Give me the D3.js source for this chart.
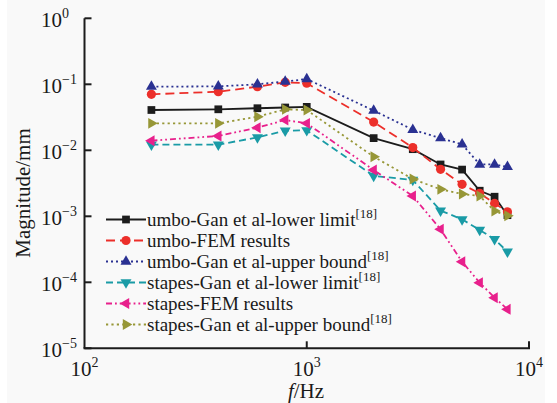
<!DOCTYPE html>
<html>
<head>
<meta charset="utf-8">
<script src="https://cdn.jsdelivr.net/npm/d3@7"></script>
<style>
  body { margin: 0; background: #fff; }
  text { font-family: "Liberation Serif", Tinos, "Times New Roman", Times, "DejaVu Serif", serif; fill: #1a1a1a; }
</style>
</head>
<body>
<svg id="chart" width="557" height="403"></svg>
<script>
// frequencies (Hz)
const freqs = [200, 400, 600, 800, 1000, 2000, 3000, 4000, 5000, 6000, 7000, 8000];

// magnitudes (mm)
const umboLower = [0.0408, 0.0418, 0.0434, 0.0445, 0.0455, 0.0153, 0.0104, 0.0061, 0.0051, 0.00244, 0.00198, 0.00104];
const umboFEM = [0.0705, 0.0773, 0.092, 0.107, 0.104, 0.0268, 0.011, 0.00515, 0.00305, 0.00223, 0.00157, 0.00117];
const umboUpper = [0.092, 0.093, 0.100, 0.110, 0.120, 0.040, 0.0205, 0.0153, 0.0123, 0.0061, 0.0061, 0.0056];
const stapesLower = [0.0122, 0.0122, 0.0157, 0.0198, 0.0201, 0.0041, 0.00355, 0.00122, 0.0009, 0.00062, 0.00045, 0.00029];
const stapesFEM = [0.014, 0.0165, 0.022, 0.0288, 0.0256, 0.00503, 0.00203, 0.000635, 0.000205, 0.0000986, 0.0000585, 0.000039];
const stapesUpper = [0.0256, 0.0256, 0.0323, 0.0417, 0.0408, 0.008, 0.00367, 0.00256, 0.00218, 0.00203, 0.0012, 0.00102];

const seriesNames = [
  ["umbo-Gan et al-lower limit", "[18]"],
  ["umbo-FEM results", ""],
  ["umbo-Gan et al-upper bound", "[18]"],
  ["stapes-Gan et al-lower limit", "[18]"],
  ["stapes-FEM results", ""],
  ["stapes-Gan et al-upper bound", "[18]"]
];
const seriesValues = [umboLower, umboFEM, umboUpper, stapesLower, stapesFEM, stapesUpper];

const xTicks = [100, 1000, 10000];
const yTicks = [1, 0.1, 0.01, 0.001, 0.0001, 0.00001];

// styles for each series
const colors = ["#1c1c1c", "#ec2f2a", "#2a3192", "#1a9ba6", "#e8208c", "#979737"];
const dashes = [null, "9,5", "2,3", "7,4", "6,3,1.8,3,1.8,3", "2.2,3.2"];
const symbols = [
  { type: d3.symbolSquare, size: 60, rot: 0 },
  { type: d3.symbolCircle, size: 66, rot: 0 },
  { type: d3.symbolTriangle, size: 52, rot: 0 },
  { type: d3.symbolTriangle, size: 52, rot: 180 },
  { type: d3.symbolTriangle, size: 52, rot: -90 },
  { type: d3.symbolTriangle, size: 52, rot: 90 }
];

const SVG = d3.select("#chart");

// paper background
SVG.append("rect").attr("x", 7).attr("y", 0).attr("width", 538).attr("height", 403).attr("fill", "#f9f9f9");

const x = d3.scaleLog().domain([100, 10000]).range([84.5, 529]);
const y = d3.scaleLog().domain([0.00001, 1]).range([348.3, 18.3]);

const axisColor = "#1c1c1c";

// y axis line + inward ticks
SVG.append("line")
  .attr("x1", x(100)).attr("x2", x(100))
  .attr("y1", y(1)).attr("y2", y(0.00001))
  .attr("stroke", axisColor).attr("stroke-width", 2);
SVG.selectAll(".ytick").data(yTicks).enter().append("line")
  .attr("class", "ytick")
  .attr("x1", x(100)).attr("x2", x(100) + 7)
  .attr("y1", d => y(d)).attr("y2", d => y(d))
  .attr("stroke", axisColor).attr("stroke-width", 2);

// x axis line + inward ticks
SVG.append("line")
  .attr("x1", x(100) - 1).attr("x2", x(10000) + 1)
  .attr("y1", y(0.00001)).attr("y2", y(0.00001))
  .attr("stroke", axisColor).attr("stroke-width", 2);
SVG.selectAll(".xtick").data(xTicks.slice(1)).enter().append("line")
  .attr("class", "xtick")
  .attr("x1", d => x(d)).attr("x2", d => x(d))
  .attr("y1", y(0.00001)).attr("y2", y(0.00001) - 7)
  .attr("stroke", axisColor).attr("stroke-width", 2);

// tick labels as 10^n
function powerLabel(sel, exp) {
  sel.append("tspan").text("10");
  sel.append("tspan").attr("dy", -9).style("font-size", "14px")
    .text(exp < 0 ? "\u2212" + (-exp) : String(exp));
}

SVG.selectAll(".ylab").data(yTicks).enter().append("text")
  .attr("class", "ylab")
  .attr("x", 41).attr("y", d => y(d) + 9)
  .style("font-size", "21px")
  .each(function (d) { powerLabel(d3.select(this), Math.round(Math.log10(d))); });

SVG.selectAll(".xlab").data(xTicks).enter().append("text")
  .attr("class", "xlab")
  .attr("x", d => x(d)).attr("y", 375.5)
  .attr("text-anchor", "middle")
  .style("font-size", "21px")
  .each(function (d) { powerLabel(d3.select(this), Math.round(Math.log10(d))); });

// axis titles
SVG.append("text")
  .attr("transform", "translate(30,193) rotate(-90)")
  .attr("text-anchor", "middle")
  .style("font-size", "21px")
  .text("Magnitude/mm");

const xt = SVG.append("text")
  .attr("x", 306).attr("y", 398)
  .attr("text-anchor", "middle")
  .style("font-size", "21px");
xt.append("tspan").style("font-style", "italic").text("f");
xt.append("tspan").text("/Hz");

// series lines and markers
const line = d3.line().x(d => x(d[0])).y(d => y(d[1]));

function marker(g, i, cx, cy) {
  const s = symbols[i];
  g.append("path")
    .attr("d", d3.symbol().type(s.type).size(s.size)())
    .attr("transform", `translate(${cx},${cy}) rotate(${s.rot})`)
    .attr("fill", colors[i]);
}

seriesValues.forEach((vals, i) => {
  const pts = freqs.map((f, k) => [f, vals[k]]);
  const g = SVG.append("g").attr("class", "series");
  g.append("path")
    .datum(pts)
    .attr("d", line)
    .attr("fill", "none")
    .attr("stroke", colors[i])
    .attr("stroke-width", 1.8)
    .attr("stroke-dasharray", dashes[i]);
  pts.forEach(p => marker(g, i, x(p[0]), y(p[1])));
});

// legend
const legend = SVG.append("g").attr("class", "legend");
seriesNames.forEach((nm, i) => {
  const ly = 219.5 + i * 21;
  legend.append("line")
    .attr("x1", 106).attr("x2", 146)
    .attr("y1", ly).attr("y2", ly)
    .attr("stroke", colors[i]).attr("stroke-width", 1.8)
    .attr("stroke-dasharray", dashes[i]);
  marker(legend, i, 126, ly);
  const t = legend.append("text")
    .attr("x", 147).attr("y", ly + 6)
    .style("font-size", "19px");
  t.append("tspan").text(nm[0]);
  if (nm[1]) t.append("tspan").attr("dy", -8).style("font-size", "13px").text(nm[1]);
});
</script>
</body>
</html>
